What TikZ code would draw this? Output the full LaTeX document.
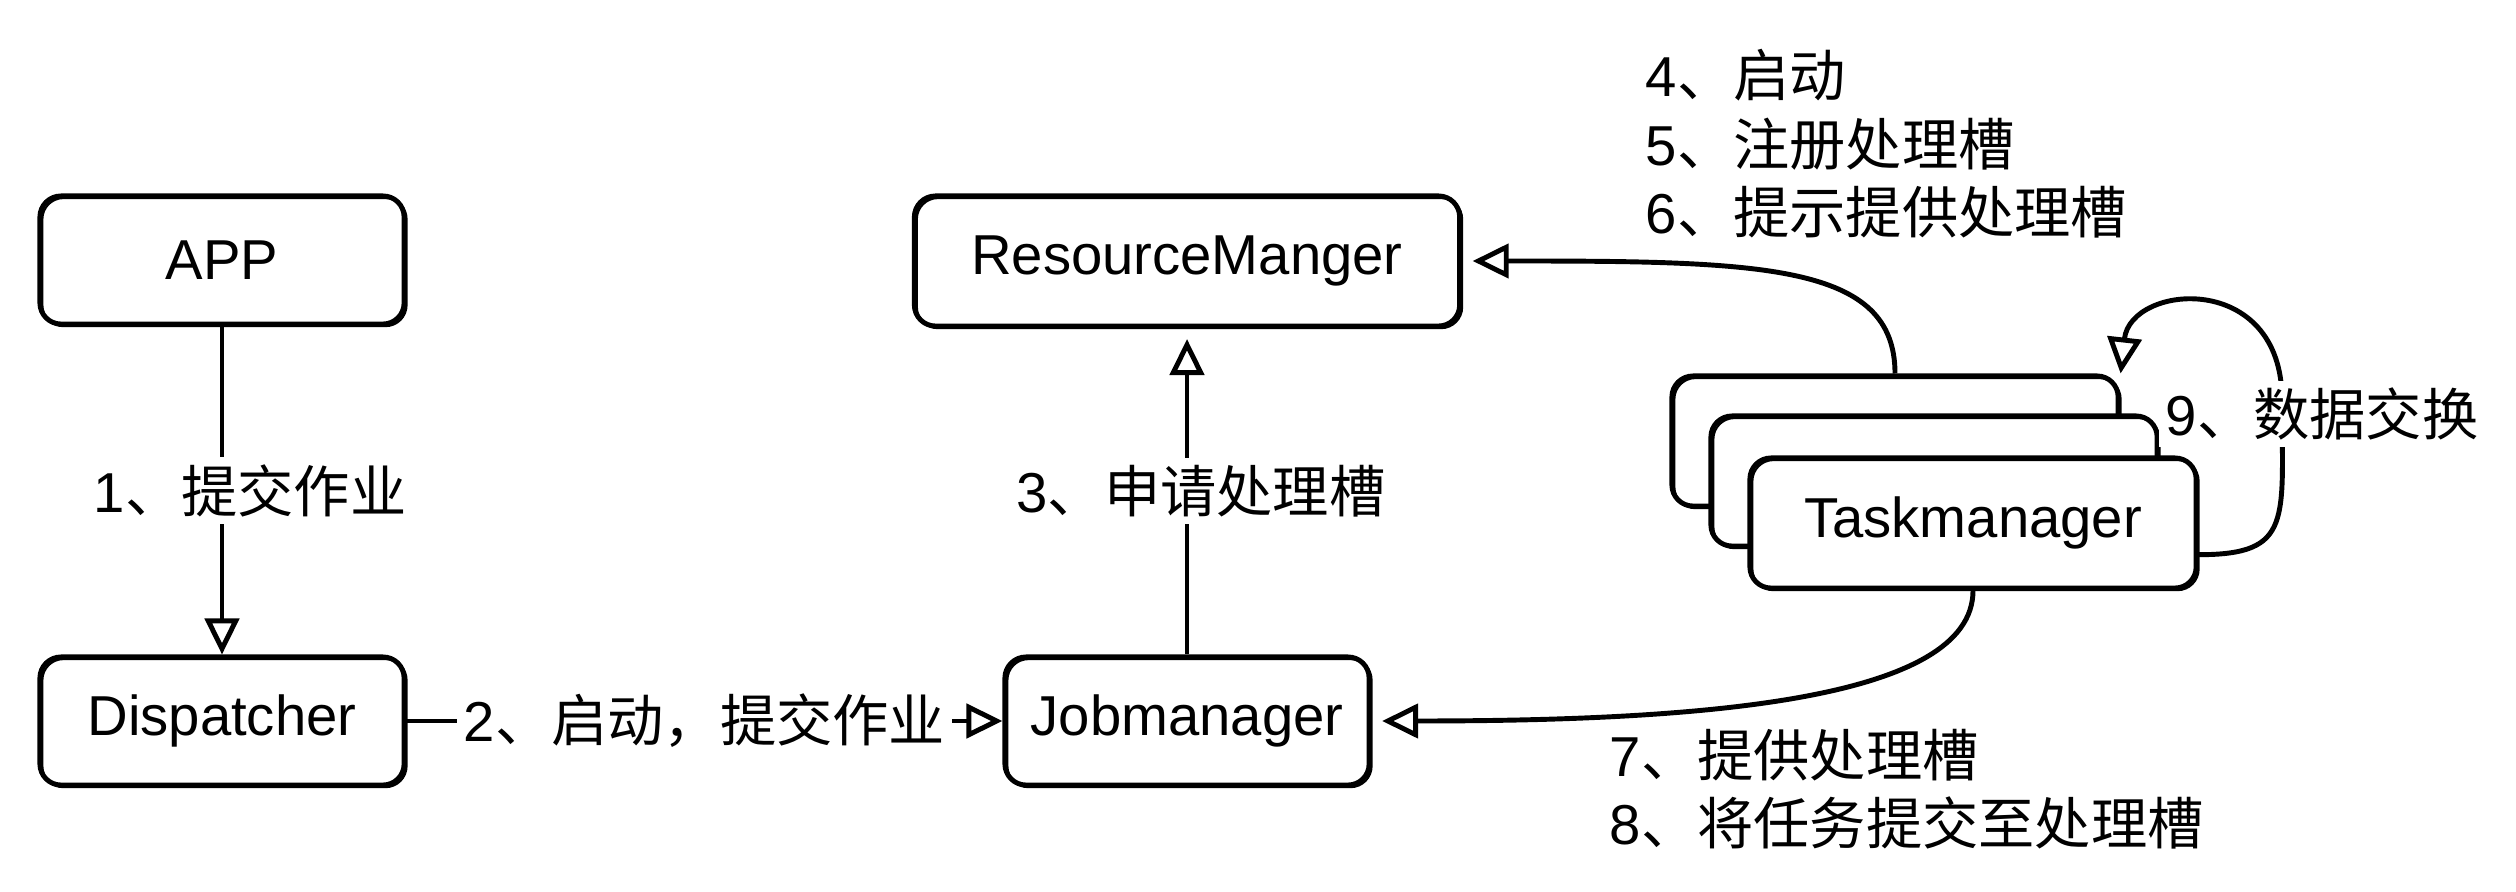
\documentclass[tikz,border=0pt]{standalone}
\usepackage{fontspec}
\setmainfont{Liberation Sans}
\newfontfamily\cjk{Noto Sans CJK SC}
\newcommand{\zh}[1]{{\cjk #1}}
\usetikzlibrary{arrows.meta,positioning,calc}
\tikzset{
  >={Triangle[open,length=3.6mm,width=3.4mm]},
  % boxes
  box/.style={draw,fill=white,rounded corners=6pt,line width=1.4pt,
              minimum width=3.64cm,minimum height=1.28cm,inner sep=0pt,
              font=\fontsize{16}{19.5}\selectfont,
              postaction={draw,line width=0.6pt,transform canvas={shift={(0.7pt,-0.6pt)}}}},
  wide/.style={box,minimum width=5.45cm,minimum height=1.3cm},
  tmbox/.style={box,minimum width=4.46cm,minimum height=1.3cm},
  % connectors
  flow/.style={->,line width=1.4pt},
  lbl/.style={font=\fontsize{16}{19.5}\selectfont,fill=white,inner sep=2pt},
  note/.style={font=\fontsize{16}{19.5}\selectfont,align=left,inner sep=0pt,anchor=west},
}

\begin{document}
\begin{tikzpicture}[x=0.01cm,y=-0.01cm]
  \useasboundingbox (0,0) rectangle (2516,892);
  \node[box] (app) at (222,260) {APP};
  \node[box] (disp) at (222,721) {Dispatcher};
  \node[wide] (rm) at (1187,261) {ResourceManger};
  \node[box] (jm) at (1187,721) {Jobmanager};
  % Taskmanager stack
  \node[tmbox] (tmback) at (1895,441) {};
  \node[tmbox] (tmmid) at (1934,481) {};
  \node[tmbox] (tmfront) at (1973,523) {Taskmanager};
  \coordinate (loop) at (2282,400);
  \draw[flow] (app) -- node[lbl,xshift=8pt] {1\zh{、提交作业}} (disp);
  \draw[flow] (disp) -- node[lbl] {2\zh{、启动，提交作业}} (jm);
  \draw[flow,shorten >=3pt] (jm) -- node[lbl,xshift=4pt] {3\zh{、申请处理槽}} (rm);
  \draw[flow,shorten >=3pt] (tmback.north) .. controls +(0,-110) and +(300,0) .. (rm.east);
  \draw[flow,shorten >=3pt] (tmfront.south) .. controls +(0,110) and +(330,0) .. (jm.east);
  \draw[flow] (tmfront.-8) .. controls +(95,0) and +(0,120) .. (loop)
    .. controls +(0,-130) and +(10,-90) .. (tmback.north east);
  \node[lbl] (l9) at (2322,414) {9\zh{、数据交换}};
  \node[note] (l456) at (1645,144) {4\zh{、启动}\\5\zh{、注册处理槽}\\6\zh{、提示提供处理槽}};
  \node[note] (l78) at (1609,789) {7\zh{、提供处理槽}\\8\zh{、将任务提交至处理槽}};
\end{tikzpicture}
\end{document}
